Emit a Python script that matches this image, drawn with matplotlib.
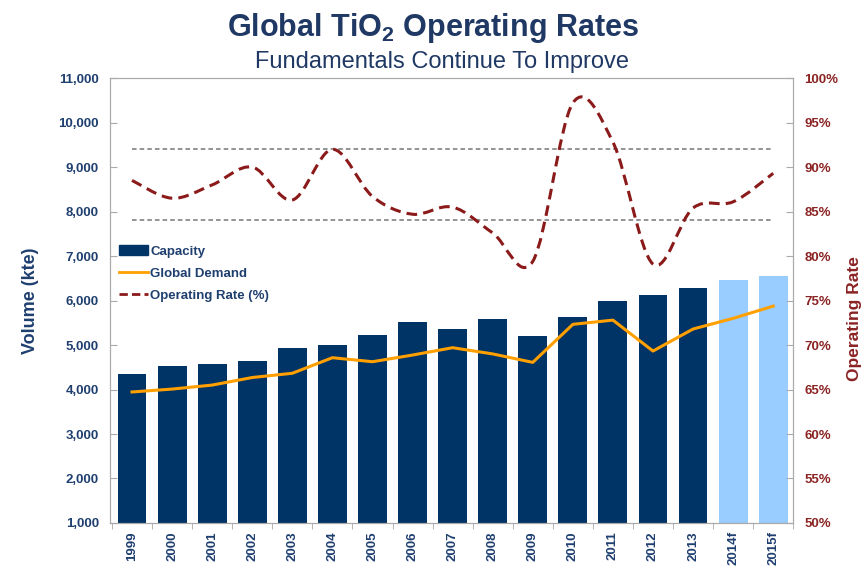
import matplotlib
matplotlib.use("Agg")
import matplotlib.pyplot as plt
from matplotlib.path import Path
from matplotlib.patches import PathPatch
from matplotlib.lines import Line2D
from matplotlib.patches import Patch
from matplotlib.ticker import FuncFormatter
import numpy as np

years = ["1999", "2000", "2001", "2002", "2003", "2004", "2005", "2006", "2007",
         "2008", "2009", "2010", "2011", "2012", "2013", "2014f", "2015f"]
capacity = [4350, 4520, 4575, 4650, 4940, 5000, 5225, 5525, 5350, 5580, 5210,
            5640, 5985, 6125, 6290, 6460, 6555]
demand = [3945, 4010, 4100, 4270, 4365, 4715, 4625, 4775, 4940, 4800, 4610,
          5465, 5560, 4865, 5360, 5600, 5875]
op_rate = [88.5, 86.5, 88.0, 90.0, 86.3, 92.0, 86.7, 84.7, 85.5, 82.6, 79.4,
           97.2, 92.8, 79.1, 85.4, 86.1, 89.3]
forecast = [False] * 15 + [True, True]
ref_levels = [92, 84]

NAVY = "#003366"
LIGHT = "#99CCFF"
ORANGE = "#FFA000"
RED = "#8B1A1A"
TXT_NAVY = "#1F3F6F"
TXT_RED = "#8B2323"
GRID = "#AAAAAA"

plt.rcParams['font.family'] = ['Liberation Sans', 'DejaVu Sans']

fig = plt.figure(figsize=(8.66, 5.66), dpi=100)
ax = fig.add_axes([0.127, 0.076, 0.789, 0.786])
ax2 = ax.twinx()

x = np.arange(len(years))
colors = [LIGHT if f else NAVY for f in forecast]
ax.bar(x, capacity, width=0.72, color=colors, zorder=2)
ax.plot(x, demand, color=ORANGE, lw=2.2, zorder=3)

ax.set_xlim(-0.55, len(years) - 0.5)
ax.set_ylim(1000, 11000)
ax.set_yticks(range(1000, 11001, 1000))
ax.yaxis.set_major_formatter(FuncFormatter(lambda v, p: f"{int(v):,}"))
ax.set_xticks(x)
ax.set_xticklabels(years, rotation=90, fontsize=9.5, fontweight='bold', color=TXT_NAVY)
ax.set_xticks(np.arange(-0.5, len(years), 1), minor=True)
ax.tick_params(axis='x', which='major', length=0, pad=6)
ax.tick_params(axis='x', which='minor', length=4, color=GRID, direction='out')
ax.tick_params(axis='y', length=5, color=GRID, direction='in', labelsize=9.5,
               labelcolor=TXT_NAVY, pad=8)
for t in ax.get_yticklabels():
    t.set_fontweight('bold')
for s in ax.spines.values():
    s.set_color(GRID)
ax.set_ylabel("Volume (kte)", fontsize=13, fontweight='bold', color=TXT_NAVY, labelpad=14)

ax2.set_ylim(50, 100)
ax2.set_yticks(range(50, 101, 5))
ax2.yaxis.set_major_formatter(FuncFormatter(lambda v, p: f"{int(v)}%"))
ax2.tick_params(axis='y', length=5, color=GRID, direction='in', labelsize=9.5,
                labelcolor=TXT_RED, pad=8)
for t in ax2.get_yticklabels():
    t.set_fontweight('bold')
for s in ax2.spines.values():
    s.set_color(GRID)
ax2.set_ylabel("Operating Rate", fontsize=12.5, fontweight='bold', color=TXT_RED,
               labelpad=3)
ax2.yaxis.set_label_coords(1.078, 0.46)

# reference dashed lines
for lv in ref_levels:
    ax2.plot([x[0], x[-1]], [lv, lv], color="#777777", lw=1.1, ls=(0, (3, 2)), zorder=3)

# smoothed operating rate line (Bezier through the data points)
pts = np.column_stack([x, op_rate]).astype(float)
verts = [tuple(pts[0])]
codes = [Path.MOVETO]
n = len(pts)
for i in range(n - 1):
    p0 = pts[i - 1] if i > 0 else pts[i]
    p1 = pts[i]
    p2 = pts[i + 1]
    p3 = pts[i + 2] if i + 2 < n else pts[i + 1]
    c1 = p1 + (p2 - p0) / 6.0
    c2 = p2 - (p3 - p1) / 6.0
    verts += [tuple(c1), tuple(c2), tuple(p2)]
    codes += [Path.CURVE4, Path.CURVE4, Path.CURVE4]
path = Path(verts, codes)
ax2.add_patch(PathPatch(path, facecolor='none', edgecolor=RED, lw=2.2,
                        ls=(0, (3.5, 2)), zorder=4))

# legend
handles = [Patch(facecolor=NAVY, edgecolor=NAVY),
           Line2D([], [], color=ORANGE, lw=2),
           Line2D([], [], color=RED, lw=2, ls=(0, (3, 1.5)))]
labels = ["Capacity", "Global Demand", "Operating Rate (%)"]
leg = ax2.legend(handles, labels, loc='upper left', bbox_to_anchor=(0.0, 0.645),
                 frameon=False, handlelength=2.2, handletextpad=0.15,
                 labelspacing=0.75, borderaxespad=0.3,
                 prop={'weight': 'bold', 'size': 9.5})
for t in leg.get_texts():
    t.set_color(TXT_NAVY)

fig.text(0.5, 0.95, "Global TiO$_\\mathregular{2}$ Operating Rates", ha='center', va='center',
         fontsize=22, fontweight='bold', color="#1F3864")
fig.text(0.51, 0.89, "Fundamentals Continue To Improve", ha='center', va='center',
         fontsize=17, color="#1F3864")

fig.savefig("out.png", dpi=100)
